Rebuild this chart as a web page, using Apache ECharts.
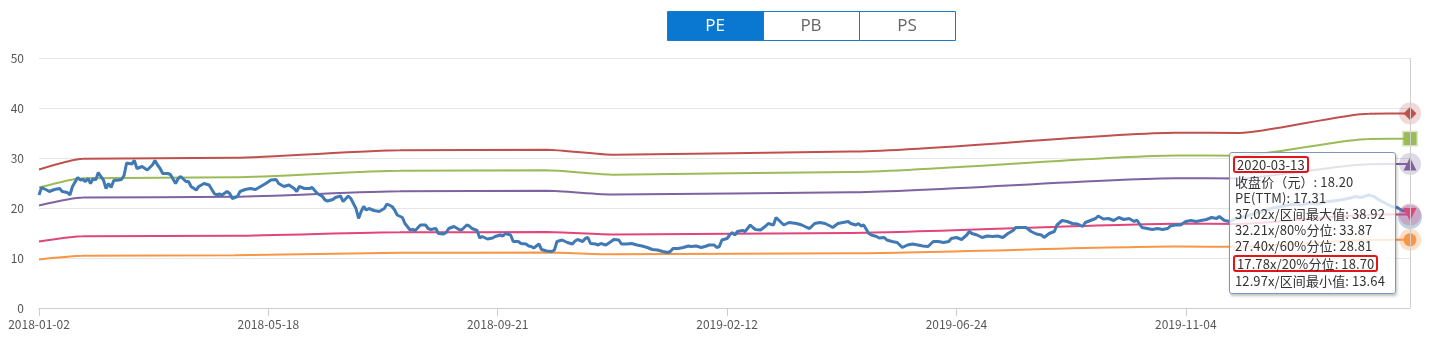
<!DOCTYPE html>
<html>
<head>
<meta charset="utf-8">
<script src="https://cdn.jsdelivr.net/npm/echarts@6/dist/echarts.min.js"></script>
<style>
  html, body { margin: 0; padding: 0; background: #fff; }
  #chart { width: 1429px; height: 337px; }
  .tip-body { width: 155px; }
  .tip-row { line-height: 16px; white-space: nowrap; letter-spacing: 0.1px; }
  .tip-mark { display: inline-block; border: 2px solid #e3151b; border-radius: 3px; padding: 0 2px; margin-left: -2px; line-height: 13px; }
</style>
</head>
<body>
<div id="chart"></div>
<script>
// Valuation tabs above the chart
const tabs = ['PE', 'PB', 'PS'];
const activeTab = 'PE';

// Exchange calendar: weekday sessions minus market holidays
const firstDay = '2018-01-02';
const lastDay = '2020-03-13';
const holidays = [
  '2018-01-01', '2018-02-15', '2018-02-16', '2018-02-19', '2018-02-20', '2018-02-21',
  '2018-04-05', '2018-04-06', '2018-04-30', '2018-05-01', '2018-06-18', '2018-09-24',
  '2018-10-01', '2018-10-02', '2018-10-03', '2018-10-04', '2018-10-05', '2018-12-31',
  '2019-01-01', '2019-02-04', '2019-02-05', '2019-02-06', '2019-02-07', '2019-02-08',
  '2019-04-05', '2019-05-01', '2019-05-02', '2019-05-03', '2019-06-07', '2019-09-13',
  '2019-10-01', '2019-10-02', '2019-10-03', '2019-10-04', '2019-10-07',
  '2020-01-01', '2020-01-24', '2020-01-27', '2020-01-28', '2020-01-29', '2020-01-30', '2020-01-31'
];

// y-axis ticks
const yTicks = [0, 10, 20, 30, 40, 50];

// Closing price (元), keyed by trading-day number
const closeDay = [
  0, 1, 3, 4, 6, 8, 9, 11, 12, 13, 15, 16, 17, 18, 19, 20, 21, 22, 23, 24,
  25, 26, 27, 28, 29, 31, 32, 33, 34, 36, 37, 38, 40, 42, 44, 45, 46, 47, 48, 50,
  51, 53, 54, 55, 57, 58, 59, 61, 62, 64, 66, 68, 69, 70, 71, 73, 74, 75, 77, 78,
  80, 82, 84, 86, 88, 90, 92, 93, 95, 97, 99, 100, 101, 103, 105, 106, 108, 110, 111, 112,
  114, 115, 117, 118, 120, 121, 123, 124, 125, 126, 127, 128, 130, 132, 133, 134, 135, 137, 138, 139,
  141, 142, 144, 145, 146, 148, 150, 151, 152, 154, 155, 157, 158, 159, 161, 163, 164, 166, 167, 168,
  170, 171, 172, 174, 176, 177, 179, 180, 181, 183, 184, 186, 187, 189, 190, 191, 192, 194, 195, 197,
  199, 200, 201, 203, 205, 207, 208, 209, 211, 212, 213, 214, 216, 217, 218, 220, 222, 223, 225, 226,
  228, 230, 232, 234, 236, 238, 240, 242, 244, 245, 246, 248, 250, 252, 253, 255, 257, 259, 260, 262,
  263, 264, 265, 267, 268, 269, 270, 271, 273, 274, 276, 277, 278, 280, 282, 283, 285, 286, 287, 289,
  291, 294, 296, 298, 299, 301, 303, 305, 307, 308, 310, 312, 314, 315, 317, 318, 319, 320, 322, 323,
  325, 326, 328, 329, 331, 333, 335, 337, 339, 341, 343, 345, 347, 349, 351, 353, 354, 356, 358, 360,
  361, 362, 364, 366, 368, 370, 372, 374, 376, 378, 379, 381, 383, 385, 387, 389, 390, 392, 394, 395,
  397, 399, 401, 403, 405, 406, 408, 410, 411, 413, 415, 417, 419, 421, 423, 425, 426, 428, 430, 432,
  434, 436, 438, 439, 441, 443, 445, 447, 449, 451, 453, 455, 457, 458, 460, 462, 464, 467, 470, 473,
  476, 478, 482, 485, 487, 490, 493, 496, 499, 502, 505, 508, 511, 513, 516, 518, 520, 523, 525, 527,
  529, 531, 532
];
const closePrice = [
  22.6, 24.1, 23.6, 23.3, 23.7, 23.9, 23.3, 23.1, 22.6, 24.3, 26.1, 25.6, 25.7, 25.3, 25.9, 24.9, 25.9, 25.6, 27.1, 26.3,
  25.6, 23.9, 24.9, 24.1, 25.5, 25.6, 25.7, 26.5, 29.0, 28.8, 29.5, 27.9, 28.3, 27.6, 28.6, 29.5, 28.6, 27.9, 26.9, 26.9,
  26.7, 24.9, 25.9, 26.3, 25.3, 25.3, 24.3, 23.6, 24.3, 24.9, 24.6, 22.9, 22.6, 22.8, 22.6, 23.3, 22.9, 21.9, 22.3, 23.3,
  23.7, 23.9, 23.7, 24.3, 24.9, 25.6, 25.7, 24.9, 24.3, 24.6, 23.9, 23.3, 24.3, 23.9, 23.9, 24.1, 22.9, 22.3, 21.6, 21.4,
  21.7, 22.1, 22.4, 21.3, 22.4, 21.9, 19.9, 17.9, 19.3, 20.3, 19.6, 19.9, 19.5, 19.3, 19.6, 19.9, 20.8, 20.3, 19.6, 18.6,
  18.1, 16.9, 15.6, 15.7, 15.5, 16.6, 16.6, 15.9, 15.7, 15.9, 14.9, 14.8, 15.1, 15.9, 16.3, 15.7, 15.6, 16.6, 16.4, 15.9,
  15.5, 14.0, 14.3, 13.8, 14.0, 14.3, 14.6, 14.4, 14.9, 14.6, 13.3, 13.3, 12.9, 12.8, 12.4, 12.3, 12.0, 12.8, 11.7, 11.4,
  11.3, 11.6, 13.3, 13.6, 13.1, 12.8, 13.4, 13.7, 13.3, 13.9, 14.1, 12.9, 12.8, 12.6, 12.9, 12.6, 13.3, 13.7, 13.6, 12.8,
  12.8, 12.9, 12.6, 12.4, 12.1, 11.7, 11.6, 11.3, 11.1, 11.3, 11.9, 11.9, 12.1, 12.4, 12.3, 12.4, 12.1, 12.4, 12.6, 12.6,
  12.1, 12.3, 13.6, 13.9, 14.6, 15.1, 14.6, 15.3, 15.5, 15.3, 16.6, 16.1, 15.7, 15.6, 16.4, 16.9, 16.6, 18.1, 17.6, 16.6,
  17.1, 16.9, 16.6, 16.1, 15.9, 16.9, 17.1, 16.9, 16.4, 16.1, 16.9, 17.1, 17.3, 16.9, 16.6, 16.9, 16.4, 16.6, 14.9, 14.6,
  14.3, 14.0, 14.1, 13.6, 13.3, 13.1, 12.1, 12.6, 12.8, 12.6, 12.4, 12.3, 13.3, 13.3, 13.1, 13.3, 13.9, 14.1, 13.7, 14.6,
  15.3, 14.9, 14.6, 14.1, 14.4, 14.3, 14.4, 14.1, 14.9, 15.5, 16.1, 16.1, 16.1, 15.3, 14.8, 14.6, 14.1, 14.9, 15.3, 16.6,
  17.5, 17.3, 16.9, 16.8, 16.3, 17.1, 17.5, 17.9, 18.4, 17.8, 17.9, 17.5, 18.1, 17.7, 17.9, 17.3, 17.6, 16.1, 15.9, 15.7,
  15.9, 15.7, 15.9, 16.4, 16.6, 16.6, 17.3, 17.5, 17.3, 17.5, 17.7, 18.1, 17.9, 18.3, 17.5, 17.3, 17.8, 18.2, 18.6, 19.1,
  19.5, 19.9, 20.3, 20.6, 20.8, 20.6, 21.0, 20.8, 21.2, 21.4, 21.6, 21.9, 22.3, 22.1, 22.6, 22.3, 21.6, 20.8, 20.3, 20.1,
  19.5, 19.3, 18.20
];
const peTTM = 17.31;

// PE band lines: price at each historical PE multiple, on EPS update days
const bandDay = [0, 17, 76, 140, 197, 223, 315, 441, 466, 516, 532];
const bandMax = [27.69, 29.84, 30.06, 31.54, 31.65, 30.65, 31.28, 35.06, 35.02, 38.87, 38.92];
const band80  = [24.09, 25.96, 26.16, 27.44, 27.54, 26.67, 27.22, 30.50, 30.47, 33.82, 33.87];
const band60  = [20.50, 22.08, 22.25, 23.34, 23.43, 22.69, 23.15, 25.95, 25.92, 28.77, 28.81];
const band20  = [13.30, 14.33, 14.44, 15.15, 15.20, 14.72, 15.02, 16.84, 16.82, 18.67, 18.70];
const bandMin = [9.70, 10.45, 10.53, 11.05, 11.09, 10.74, 10.96, 12.28, 12.27, 13.62, 13.64];
const bandMultiple = [37.02, 32.21, 27.40, 17.78, 12.97];
const bandName = ['区间最大值', '80%分位', '60%分位', '20%分位', '区间最小值'];
const closeName = '收盘价（元）';
const markedBand = '20%分位';

function tradingDays(from, to, closed) {
  const skip = new Set(closed);
  const out = [];
  const end = Date.parse(to + 'T00:00:00Z');
  for (let t = Date.parse(from + 'T00:00:00Z'); t <= end; t += 86400000) {
    const d = new Date(t);
    const wd = d.getUTCDay();
    const s = d.toISOString().slice(0, 10);
    if (wd !== 0 && wd !== 6 && !skip.has(s)) out.push(s);
  }
  return out;
}
const days = tradingDays(firstDay, lastDay, holidays);

const FONT = '"Noto Sans CJK SC", "Open Sans", sans-serif';
const bandValues = [bandMax, band80, band60, band20, bandMin];
const bandColor = ['#c0504d', '#9bbb59', '#7f62a1', '#e0457b', '#f79646'];
const bandHalo = ['rgba(192,80,77,0.22)', 'rgba(155,187,89,0.35)', 'rgba(127,98,161,0.25)', 'rgba(224,69,123,0.3)', 'rgba(247,150,70,0.3)'];
const bandSymbol = ['diamond', 'rect', 'triangle', 'triangle', 'circle'];
const bandRotate = [0, 0, 0, 180, 0];
const haloSymbol = ['circle', 'rect', 'circle', 'circle', 'circle'];
const haloSize = [22, 16, 22, 22, 22];

function endMarks(date, value, shape, rotate, color, halo, hSymbol, hSize) {
  const marks = [{ coord: [date, value], symbol: hSymbol, symbolSize: hSize, itemStyle: { color: halo } }];
  if (shape) {
    marks.push({ coord: [date, value], symbol: shape, symbolSize: 13, symbolRotate: rotate, itemStyle: { color: color } });
  }
  return marks;
}

// Close price first so the band end markers paint over its halo
const lastClose = closeDay.length - 1;
const series = [{
  name: closeName,
  type: 'line',
  data: closeDay.map((d, i) => [days[d], closePrice[i]]),
  symbol: 'none',
  lineStyle: { color: '#4179b5', width: 3 },
  itemStyle: { color: '#4179b5' },
  emphasis: { disabled: true },
  z: 3,
  markPoint: {
    silent: true,
    animation: false,
    label: { show: false },
    z: 4,
    data: endMarks(days[closeDay[lastClose]], closePrice[lastClose], null, 0,
      '#4179b5', 'rgba(65,121,181,0.35)', 'circle', 24)
  }
}];

bandName.forEach((name, k) => {
  const vals = bandValues[k];
  const lastIdx = bandDay.length - 1;
  series.push({
    name: name,
    type: 'line',
    data: bandDay.map((d, i) => [days[d], vals[i]]),
    symbol: 'none',
    smooth: 0.2,
    smoothMonotone: 'x',
    lineStyle: { color: bandColor[k], width: 2 },
    itemStyle: { color: bandColor[k] },
    emphasis: { disabled: true },
    z: 2,
    markPoint: {
      silent: true,
      animation: false,
      label: { show: false },
      z: 6,
      data: endMarks(days[bandDay[lastIdx]], vals[lastIdx], bandSymbol[k], bandRotate[k],
        bandColor[k], bandHalo[k], haloSymbol[k], haloSize[k])
    }
  });
});

function tipFormatter(params) {
  const byName = {};
  params.forEach(p => { byName[p.seriesName] = p.value[1]; });
  const rows = [];
  rows.push('<div class="tip-row" style="margin-bottom:1px"><span class="tip-mark">' + params[0].axisValue + '</span></div>');
  rows.push('<div class="tip-row">' + closeName + ': ' + byName[closeName].toFixed(2) + '</div>');
  rows.push('<div class="tip-row">PE(TTM): ' + peTTM.toFixed(2) + '</div>');
  bandName.forEach((name, k) => {
    const text = bandMultiple[k].toFixed(2) + 'x/' + name + ': ' + byName[name].toFixed(2);
    if (name === markedBand) {
      rows.push('<div class="tip-row" style="margin:1px 0"><span class="tip-mark">' + text + '</span></div>');
    } else {
      rows.push('<div class="tip-row">' + text + '</div>');
    }
  });
  return '<div class="tip-body">' + rows.join('') + '</div>';
}

// Tab buttons
const tabW = 96, tabH = 29, tabX = 667, tabY = 11;
const graphic = [];
tabs.forEach((t, i) => {
  const on = t === activeTab;
  graphic.push({
    type: 'rect', silent: true, z: 10,
    shape: { x: tabX + i * tabW + 0.5, y: tabY + 0.5, width: tabW, height: tabH },
    style: { fill: on ? '#0a78d1' : '#fff', stroke: '#1a7cc9', lineWidth: 1 }
  });
  graphic.push({
    type: 'text', silent: true, z: 11,
    x: tabX + i * tabW + tabW / 2, y: tabY + tabH / 2 + 1,
    style: { text: t, fill: on ? '#fff' : '#666', font: '17px "Open Sans", sans-serif', align: 'center', verticalAlign: 'middle' }
  });
});

const chart = echarts.init(document.getElementById('chart'), null, { renderer: 'canvas' });
chart.setOption({
  animation: false,
  backgroundColor: '#fff',
  grid: { left: 39, right: 19, top: 58, bottom: 29 },
  graphic: graphic,
  tooltip: {
    trigger: 'axis',
    triggerOn: 'none',
    alwaysShowContent: true,
    transitionDuration: 0,
    backgroundColor: 'rgba(255,255,255,0.8)',
    borderColor: '#7e98bf',
    borderWidth: 1,
    padding: [3, 5, 4, 5],
    textStyle: { color: '#333', fontSize: 13, fontFamily: FONT },
    extraCssText: 'border-radius:3px;box-shadow:1px 2px 3px rgba(0,0,0,0.25);',
    axisPointer: { type: 'line', animation: false, lineStyle: { color: '#cfcfcf', width: 1, type: 'solid' } },
    position: function (point, params, dom, rect, size) {
      return [point[0] - size.contentSize[0] - 14, 152];
    },
    formatter: tipFormatter
  },
  xAxis: {
    type: 'category',
    data: days,
    boundaryGap: false,
    axisLine: { lineStyle: { color: '#cccccc' } },
    axisTick: { show: true, interval: 88, length: 8, lineStyle: { color: '#cccccc' } },
    axisLabel: { interval: 88, color: '#555', fontSize: 12, margin: 10, fontFamily: FONT },
    splitLine: { show: false }
  },
  yAxis: {
    type: 'value',
    min: yTicks[0],
    max: yTicks[yTicks.length - 1],
    interval: yTicks[1] - yTicks[0],
    axisLine: { show: false },
    axisTick: { show: false },
    axisLabel: { color: '#555', fontSize: 12, margin: 15, fontFamily: FONT },
    splitLine: { lineStyle: { color: '#e6e6e6' } }
  },
  series: series
});

chart.dispatchAction({ type: 'showTip', seriesIndex: 0, dataIndex: lastClose });
</script>
</body>
</html>
